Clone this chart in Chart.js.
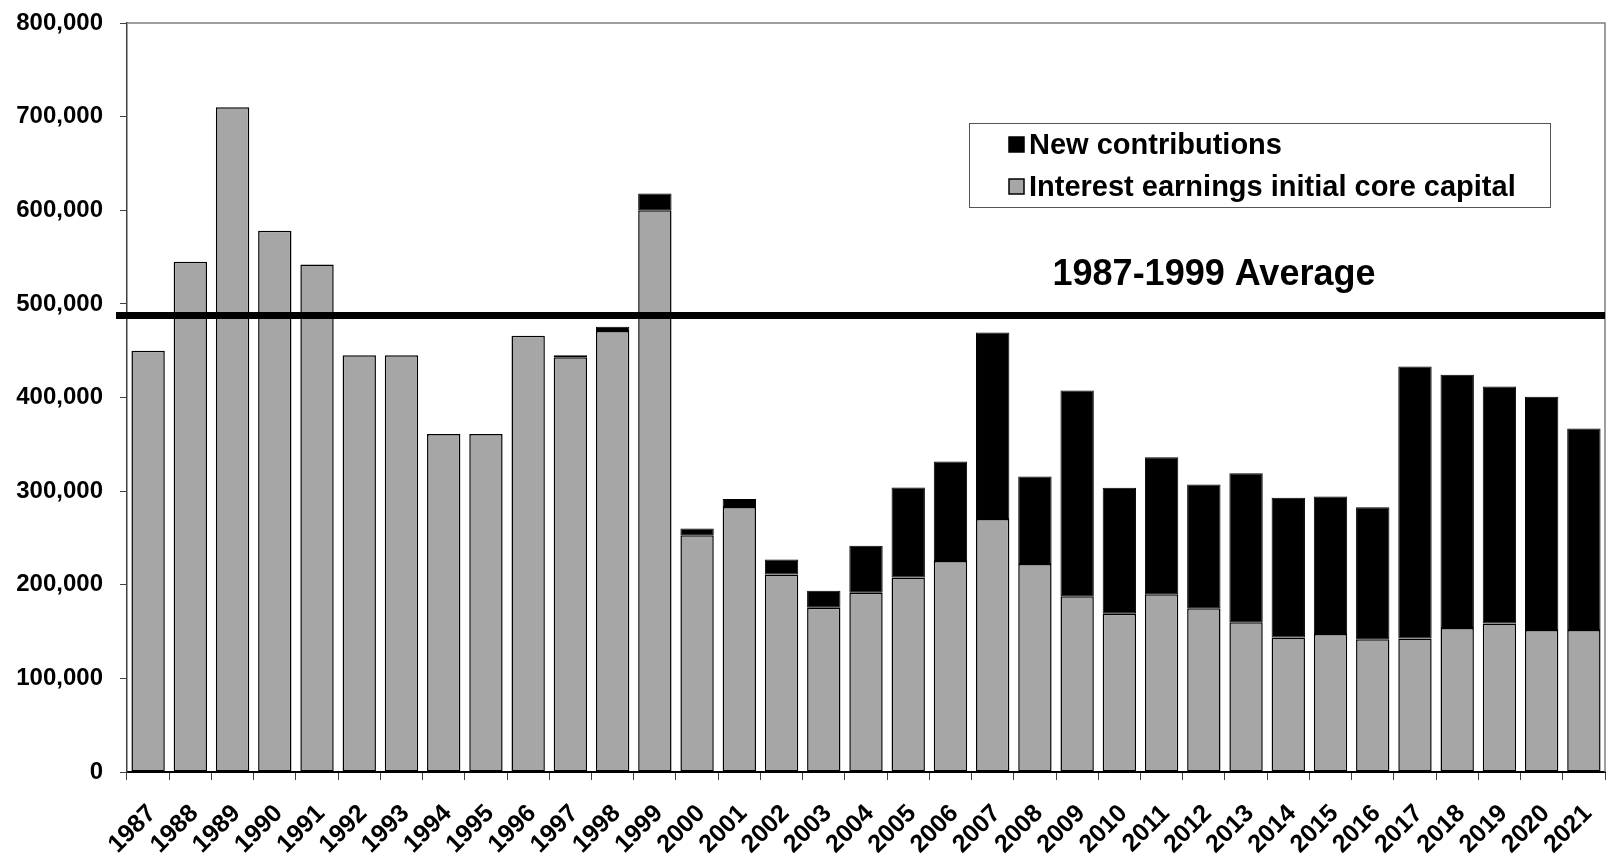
<!DOCTYPE html>
<html>
<head>
<meta charset="utf-8">
<script src="https://cdn.jsdelivr.net/npm/chart.js@4.4.1/dist/chart.umd.min.js"></script>
<style>
  html, body { margin: 0; padding: 0; background: #fff; }
</style>
</head>
<body>
<canvas id="fundChart" width="1614" height="865"></canvas>
<script>
const years = ['1987','1988','1989','1990','1991','1992','1993','1994','1995','1996','1997','1998','1999',
    '2000','2001','2002','2003','2004','2005','2006','2007','2008','2009','2010','2011','2012','2013',
    '2014','2015','2016','2017','2018','2019','2020','2021']

// grey part of each bar
const interestEarnings = [450000, 545000, 710000, 578000, 542000, 445000, 445000, 361000, 361000, 466000, 443000, 471000, 600000,
    253000, 283000, 211000, 175500, 191400, 207800, 225400, 270300, 222100, 187700, 168900, 189800, 174800, 160000,
    143600, 147500, 141800, 142500, 153900, 158500, 151800, 151800]

// black part stacked on top
const newContributions = [0, 0, 0, 0, 0, 0, 0, 0, 0, 0, 2000, 4500, 18000,
    7000, 8600, 16000, 18000, 50300, 96200, 106300, 199200, 93600, 219700, 134600, 146400, 132400, 159200,
    149200, 146800, 141100, 290700, 270400, 253300, 249000, 215100]

const averageValue = 487500
const averageLabel = '1987-1999 Average'

const FONT = '"Liberation Sans", Arial, sans-serif'

const extrasPlugin = {
    id: 'extras',
    afterDatasetsDraw(chart) {
        const ctx = chart.ctx
        const a = chart.chartArea
        const y = chart.scales.y
        ctx.save()

        // frame top / right
        ctx.strokeStyle = '#808080'
        ctx.lineWidth = 1.5
        ctx.beginPath()
        ctx.moveTo(a.left, a.top)
        ctx.lineTo(a.right, a.top)
        ctx.lineTo(a.right, a.bottom)
        ctx.stroke()

        // average line
        const yy = y.getPixelForValue(averageValue)
        ctx.strokeStyle = '#000'
        ctx.lineWidth = 7
        ctx.beginPath()
        ctx.moveTo(a.left - 11, yy)
        ctx.lineTo(a.right, yy)
        ctx.stroke()

        ctx.fillStyle = '#000'
        ctx.font = 'bold 36px ' + FONT
        ctx.textAlign = 'center'
        ctx.textBaseline = 'alphabetic'
        ctx.fillText(averageLabel, a.left + 1087, yy - 31)

        // legend box
        const bx = a.right - 636, by = a.top + 100, bw = 581, bh = 84
        ctx.fillStyle = '#fff'
        ctx.fillRect(bx, by, bw, bh)
        ctx.strokeStyle = '#555'
        ctx.lineWidth = 1
        ctx.strokeRect(bx + 0.5, by + 0.5, bw, bh)

        const items = chart.data.datasets.slice().reverse()
        ctx.font = 'bold 29px ' + FONT
        ctx.textAlign = 'left'
        ctx.textBaseline = 'middle'
        items.forEach((ds, i) => {
            const cy = by + 21.5 + i * 42
            ctx.fillStyle = ds.backgroundColor
            ctx.fillRect(bx + 40, cy - 7.5, 15, 15)
            ctx.strokeStyle = '#000'
            ctx.lineWidth = 1.5
            ctx.strokeRect(bx + 40, cy - 7.5, 15, 15)
            ctx.fillStyle = '#000'
            ctx.fillText(ds.label, bx + 60, cy + 1)
        })
        ctx.restore()
    }
}

const ctx = document.getElementById('fundChart').getContext('2d')
const fundChart = new Chart(ctx, {
    type: 'bar',
    data: {
        labels: years,
        datasets: [{
            label: 'Interest earnings initial core capital',
            data: interestEarnings,
            backgroundColor: '#a6a6a6',
            borderColor: '#000',
            borderWidth: 1.5,
            borderSkipped: false
        }, {
            label: 'New contributions',
            data: newContributions,
            backgroundColor: '#000',
            borderColor: '#000',
            borderWidth: 1,
            borderSkipped: false
        }]
    },
    options: {
        responsive: false,
        animation: false,
        devicePixelRatio: 1,
        layout: {
            padding: { top: 23, right: 9, left: 0, bottom: 0 }
        },
        datasets: {
            bar: { categoryPercentage: 0.79, barPercentage: 1.0 }
        },
        plugins: {
            legend: { display: false },
            tooltip: { enabled: false }
        },
        scales: {
            x: {
                stacked: true,
                afterFit: (s) => {
                    s.height = 93
                    s.paddingLeft = 0
                    s.paddingRight = 0
                },
                grid: {
                    offset: true,
                    drawOnChartArea: false,
                    drawTicks: true,
                    tickLength: 8,
                    color: '#404040',
                    lineWidth: 1
                },
                border: { color: '#000', width: 2 },
                ticks: {
                    autoSkip: false,
                    minRotation: 45,
                    maxRotation: 45,
                    color: '#000',
                    padding: 19,
                    labelOffset: 4,
                    font: { family: FONT, size: 25, weight: 'bold' }
                }
            },
            y: {
                stacked: true,
                min: 0,
                max: 800000,
                afterFit: (s) => {
                    s.width = 127
                    s.paddingTop = 0
                    s.paddingBottom = 0
                },
                grid: {
                    drawOnChartArea: false,
                    drawTicks: true,
                    tickLength: 7,
                    color: '#404040'
                },
                border: { color: '#404040', width: 1.5 },
                ticks: {
                    stepSize: 100000,
                    color: '#000',
                    padding: 17,
                    font: { family: FONT, size: 24, weight: 'bold' }
                }
            }
        }
    },
    plugins: [extrasPlugin]
})
</script>
</body>
</html>
